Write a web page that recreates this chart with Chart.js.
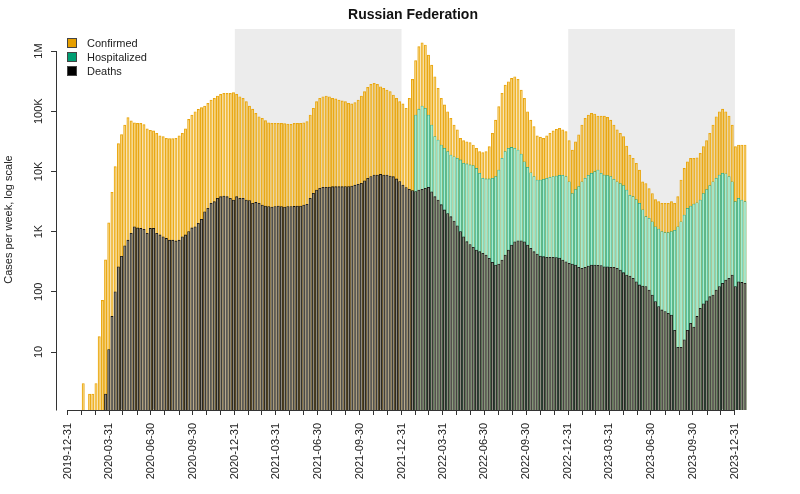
<!DOCTYPE html>
<html>
<head>
<meta charset="utf-8">
<script src="https://cdn.jsdelivr.net/npm/chart.js@4.4.1/dist/chart.umd.min.js"></script>
<style>
  body { margin: 0; background: #fff; }
  #wrap { position: relative; width: 800px; height: 494px; }
  #legend { position: absolute; left: 67px; top: 36px; font: 11px 'Liberation Sans', Arial, sans-serif; color: #222; }
  #legend .row { height: 14px; display: flex; align-items: center; }
  #legend .box { width: 8px; height: 8px; border: 0.5px solid #444; margin-right: 10px; box-sizing: content-box; }
</style>
</head>
<body>
<div id="wrap">
  <canvas id="chart" width="800" height="494"></canvas>
  <div id="legend">
    <div class="row"><span class="box" style="background:#E69F00"></span>Confirmed</div>
    <div class="row"><span class="box" style="background:#009E73"></span>Hospitalized</div>
    <div class="row"><span class="box" style="background:#000"></span>Deaths</div>
  </div>
</div>
<script>
// weekly counts, first bar = week of 2020-02-03
const firstWeek = '2020-02-03';

const confirmed = [
  3, null, 2, 2, 3, 18, 72, 340, 1400, 4500,
  12000, 29000, 41000, 59000, 78000, 69000, 64000, 63000, 63000, 60000,
  51000, 48000, 47000, 43000, 39000, 38000, 35500, 35000, 35000, 35500,
  39000, 43000, 51000, 73000, 86000, 98000, 107000, 115000, 122000, 135000,
  153000, 164000, 179000, 191000, 198000, 198000, 198000, 203000, 191000, 174000,
  164000, 144000, 122000, 108000, 92000, 81000, 76000, 70000, 64000, 63000,
  63000, 63000, 63000, 62000, 61000, 60500, 63000, 63000, 63000, 64000,
  67000, 86500, 112000, 144000, 164000, 174000, 179000, 174000, 164000, 160000,
  153000, 148000, 144000, 135000, 132000, 139000, 153000, 179000, 211000, 250000,
  280000, 291000, 280000, 255000, 240000, 225000, 211000, 186000, 164000, 144000,
  132000, 112000, 164000, 338000, 690000, 1180000, 1370000, 1260000, 858000, 585000,
  374000, 240000, 164000, 127000, 98000, 76000, 59000, 49000, 35500, 32400,
  31000, 30000, 27500, 24200, 21300, 20500, 21300, 25800, 43000, 71000,
  119000, 198000, 272000, 309000, 350000, 374000, 338000, 225000, 164000, 98000,
  71000, 55500, 39000, 37000, 35500, 39000, 43000, 47000, 50000, 52000,
  49000, 46000, 32400, 22600, 31000, 40600, 59000, 76000, 86000, 92000,
  90000, 83000, 83000, 83000, 79000, 71000, 59000, 49000, 43000, 37800,
  26300, 18700, 16500, 13600, 10500, 6700, 6300, 5200, 4300, 3400,
  3140, 2950, 2950, 2950, 3140, 2950, 3800, 7200, 11200, 14400,
  16500, 16500, 16800, 20000, 25800, 32400, 43000, 59000, 81000, 98000,
  108000, 98000, 83000, 59000, 25800, 27500, 27500, 27500
];

// hospitalizations are only reported from early 2022
const hospitalized = Array(104).fill(null).concat([
  86500, 108000, 122000, 112000, 86500, 59000, 37800, 33200, 27500, 24200,
  21300, 18700, 17500, 16500, 15500, 13600, 13300, 12800,
  12500, 11200, 9300, 7700, 7500, 7500, 7700, 8200, 10500, 16500,
  21300, 24200, 25000, 24200, 22600, 19400, 14400, 11700, 9500, 8200,
  7200, 7200, 7400, 7700, 8000, 8200, 8400, 8600, 8600, 8200,
  6700, 4300, 5000, 5600, 6700, 7700, 8600, 9300, 9900, 10500,
  9300, 8700, 8500, 8200, 7400, 6700, 6300, 5800, 4900, 4000,
  3800, 3400, 2950, 2300, 1770, 1660, 1460, 1200, 1100, 1000,
  960, 960, 1000, 1050, 1200, 1460, 1880, 2430, 2660, 2860,
  3000, 3350, 4300, 5000, 5800, 6700, 7700, 8700, 9300, 9100,
  8200, 6700, 3140, 3570, 3350, 3140
]);

const deaths = [
  null, null, null, null, null, null, null, 2, 11, 39,
  100, 260, 390, 580, 720, 940, 1200, 1150, 1130, 1090,
  940, 1130, 1130, 940, 880, 820, 770, 720, 720, 700,
  720, 820, 880, 1000, 1150, 1200, 1370, 1600, 2140, 2430,
  2950, 3140, 3570, 3800, 3900, 3800, 3570, 3350, 3800, 3570,
  3570, 3350, 3280, 2950, 3050, 2950, 2770, 2660, 2600, 2550,
  2600, 2650, 2600, 2550, 2600, 2600, 2620, 2660, 2660, 2770,
  2850, 3570, 4330, 4910, 5240, 5440, 5440, 5500, 5570, 5570,
  5570, 5570, 5600, 5600, 5700, 5900, 6100, 6340, 7000, 7670,
  8200, 8710, 8710, 8900, 8710, 8710, 8400, 8170, 7500, 6800,
  5940, 5400, 5050, 4800, 4610, 4900, 5050, 5250, 5440, 4600,
  3800, 3350, 2800, 2290, 2000, 1770, 1500, 1250, 1000, 820,
  680, 610, 548, 495, 464, 435, 408, 360, 309, 279,
  290, 337, 408, 495, 598, 679, 706, 706, 679, 598,
  528, 464, 425, 393, 383, 374, 374, 374, 370, 364,
  337, 316, 297, 290, 279, 255, 245, 255, 268, 279,
  279, 275, 272, 261, 261, 255, 255, 245, 230, 208,
  190, 183, 167, 147, 130, 125, 122, 107, 88, 69,
  57, 50, 47, 44, 41, 23, 12, 12, 16, 23,
  30, 26, 39, 53, 63, 71, 83, 88, 107, 122,
  138, 157, 167, 190, 122, 147, 143, 138
];

const yTickValues = [10, 100, 1000, 10000, 100000, 1000000];
const yTickLabels = ['10', '100', '1K', '10K', '100K', '1M'];
const shadedPeriods = [['2020-12-31', '2021-12-31'], ['2022-12-31', '2023-12-31']];

const DAY = 86400000;
const origin = Date.UTC(2019, 11, 31);
function dayOf(s) {
  const [y, m, d] = s.split('-').map(Number);
  return (Date.UTC(y, m - 1, d) - origin) / DAY;
}

const weekDays = confirmed.map((_, i) => dayOf(firstWeek) + 7 * i);

// month-end ticks, every quarter end gets a label
const monthTicks = [0];
const tickLabels = { 0: '2019-12-31' };
for (let y = 2020; y <= 2023; y++) {
  for (let m = 0; m < 12; m++) {
    const t = Date.UTC(y, m + 1, 0);
    const d = (t - origin) / DAY;
    monthTicks.push(d);
    if ((m + 1) % 3 === 0) tickLabels[d] = new Date(t).toISOString().slice(0, 10);
  }
}

const shadePlugin = {
  id: 'shade',
  beforeDatasetsDraw(chart) {
    const { ctx, chartArea, scales: { x } } = chart;
    ctx.save();
    ctx.fillStyle = '#ececec';
    shadedPeriods.forEach(([a, b]) => {
      const x0 = x.getPixelForValue(dayOf(a));
      const x1 = x.getPixelForValue(dayOf(b));
      ctx.fillRect(x0, chartArea.top, x1 - x0, chartArea.bottom - chartArea.top);
    });
    ctx.restore();
  }
};

// R style axes: lines only span the ticks, y labels parallel to the axis
const axesPlugin = {
  id: 'rAxes',
  afterDraw(chart) {
    const { ctx, chartArea, scales: { x, y } } = chart;
    ctx.save();
    ctx.strokeStyle = '#333';
    ctx.lineWidth = 1;
    const ax = Math.round(chartArea.left) - 0.5;
    const by = Math.round(chartArea.bottom) + 0.5;
    ctx.beginPath();
    ctx.moveTo(ax, y.getPixelForValue(1e6));
    ctx.lineTo(ax, by);
    ctx.moveTo(x.getPixelForValue(0), by);
    ctx.lineTo(x.getPixelForValue(dayOf('2023-12-31')), by);
    ctx.stroke();

    ctx.fillStyle = '#222';
    ctx.font = "11px 'Liberation Sans', Arial, sans-serif";
    ctx.textAlign = 'center';
    ctx.textBaseline = 'alphabetic';
    yTickValues.forEach((v, i) => {
      ctx.save();
      ctx.translate(chartArea.left - 15, y.getPixelForValue(v));
      ctx.rotate(-Math.PI / 2);
      ctx.fillText(yTickLabels[i], 0, 0);
      ctx.restore();
    });
    ctx.restore();
  }
};

Chart.defaults.font.family = "'Liberation Sans', Arial, sans-serif";
Chart.defaults.color = '#222';

const barStyle = { barThickness: 2.3, borderWidth: 0.55, grouped: false };

new Chart(document.getElementById('chart').getContext('2d'), {
  type: 'bar',
  data: {
    labels: weekDays,
    datasets: [
      { label: 'Confirmed', data: confirmed, order: 3, backgroundColor: 'rgba(248,205,90,0.45)', borderColor: '#E69F00', ...barStyle },
      { label: 'Hospitalized', data: hospitalized, order: 2, backgroundColor: '#A9EBD0', borderColor: '#129C74', ...barStyle },
      { label: 'Deaths', data: deaths, order: 1, backgroundColor: 'rgba(205,200,185,0.65)', borderColor: '#111', ...barStyle, borderWidth: 0.8 }
    ]
  },
  options: {
    responsive: false,
    animation: false,
    layout: { padding: { left: 0, right: 31, top: 0, bottom: 0 } },
    plugins: {
      legend: { display: false },
      tooltip: { enabled: false },
      title: {
        display: true,
        text: 'Russian Federation',
        fullSize: false,
        color: '#111',
        font: { size: 14, weight: 'bold' },
        padding: { top: 7, bottom: 5.2 }
      }
    },
    scales: {
      x: {
        type: 'linear',
        min: -23.4,
        max: 1535.6,
        offset: false,
        afterBuildTicks: s => { s.ticks = monthTicks.map(v => ({ value: v })); },
        afterFit: s => { s.height = 84; },
        ticks: {
          autoSkip: false,
          minRotation: 90,
          maxRotation: 90,
          padding: 8,
          font: { size: 11 },
          callback: v => tickLabels[v] || ''
        },
        grid: { display: true, drawOnChartArea: false, tickLength: 5, color: '#333', offset: false },
        border: { display: false }
      },
      y: {
        type: 'logarithmic',
        min: 1.088,
        max: 2.32e6,
        afterBuildTicks: s => { s.ticks = yTickValues.map(v => ({ value: v })); },
        afterFit: s => { s.width = 57; },
        ticks: { display: false },
        grid: { display: true, drawOnChartArea: false, tickLength: 6, color: '#333' },
        border: { display: false },
        title: {
          display: true,
          text: 'Cases per week, log scale',
          font: { size: 11 },
          padding: { top: 2, bottom: 0 }
        }
      }
    }
  },
  plugins: [shadePlugin, axesPlugin]
});
</script>
</body>
</html>
